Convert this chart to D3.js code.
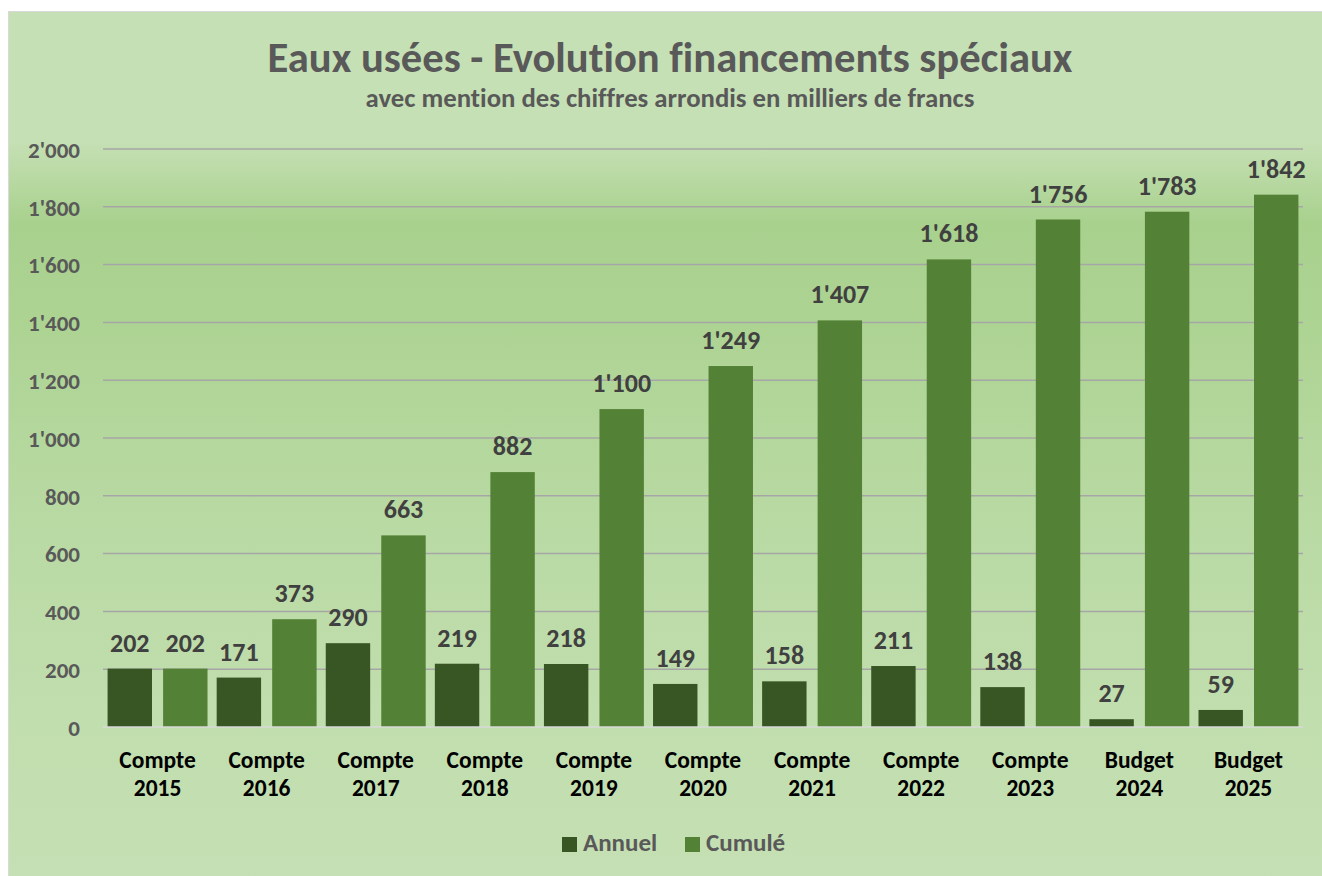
<!DOCTYPE html>
<html>
<head>
<meta charset="utf-8">
<script src="https://cdn.jsdelivr.net/npm/d3@7"></script>
<style>
  html, body { margin: 0; padding: 0; background: #ffffff; }
  svg { display: block; }
  text { font-family: Calibri, Carlito, Lato, "Open Sans", sans-serif; font-weight: 700; font-variant-ligatures: none; }
</style>
</head>
<body>
<svg id="chart" width="1322" height="876"></svg>
<script>
// ---- data ----
const categories = ["Compte 2015", "Compte 2016", "Compte 2017", "Compte 2018", "Compte 2019",
  "Compte 2020", "Compte 2021", "Compte 2022", "Compte 2023", "Budget 2024", "Budget 2025"];
const seriesNames = ["Annuel", "Cumulé"];
const annuel = [202, 171, 290, 219, 218, 149, 158, 211, 138, 27, 59];
const cumule = [202, 373, 663, 882, 1100, 1249, 1407, 1618, 1756, 1783, 1842];
const yTicks = [0, 200, 400, 600, 800, 1000, 1200, 1400, 1600, 1800, 2000];
const titleText = "Eaux usées - Evolution financements spéciaux";
const subtitleText = "avec mention des chiffres arrondis en milliers de francs";

const seriesValues = [annuel, cumule];
const colors = ["#375623", "#538135"];

const fmt = d3.formatLocale({ decimal: ".", thousands: "'", grouping: [3], currency: ["", ""] }).format(",d");

const svg = d3.select("#chart");
const W = 1322, H = 876;

// background gradient
const defs = svg.append("defs");
const grad = defs.append("linearGradient").attr("id", "bg").attr("x1", 0).attr("y1", 0).attr("x2", 0).attr("y2", 1);
[[0, "#c6e0b5"], [0.15, "#c5e0b4"], [0.24, "#a9d18e"], [0.31, "#abd290"], [0.55, "#b7d9a1"], [0.8, "#c1deae"], [1, "#c5e0b4"]]
  .forEach(([o, c]) => grad.append("stop").attr("offset", o).attr("stop-color", c));

svg.append("rect").attr("x", 8.5).attr("y", 11.5).attr("width", W).attr("height", H)
  .attr("fill", "url(#bg)").attr("stroke", "#d9d9d9").attr("stroke-width", 1);

// scales
const plotLeft = 103, plotRight = 1303, plotTop = 149, plotBottom = 727;
const y = d3.scaleLinear().domain([0, 2000]).range([plotBottom, plotTop]);
const x0 = d3.scaleBand().domain(categories).range([plotLeft, plotRight]).paddingInner(0.084).paddingOuter(0.042);
const x1 = d3.scaleBand().domain(seriesNames).range([0, x0.bandwidth()]).paddingInner(0.2).paddingOuter(0);

function fitText(sel, target, base) {
  sel.attr("font-size", base);
  const w = sel.node().getComputedTextLength();
  sel.attr("font-size", base * target / w);
}

// title
const title = svg.append("text").attr("x", 670).attr("y", 72).attr("text-anchor", "middle")
  .attr("fill", "#595959").text(titleText);
fitText(title, 805, 34);
const sub = svg.append("text").attr("x", 670).attr("y", 107).attr("text-anchor", "middle")
  .attr("fill", "#595959").text(subtitleText);
fitText(sub, 609, 18);

// gridlines
const yAxis = d3.axisLeft(y).tickValues(yTicks).tickSize(0).tickFormat(fmt);
svg.append("g").selectAll("line").data(yTicks.filter(d => d > 0)).join("line")
  .attr("x1", plotLeft).attr("x2", plotRight)
  .attr("y1", d => y(d)).attr("y2", d => y(d))
  .attr("stroke", "#a6a6a6").attr("stroke-width", 1.5);

// y axis labels
const ya = svg.append("g").attr("transform", `translate(80,0)`).call(yAxis);
ya.select(".domain").remove();
ya.selectAll("text").attr("x", 0).attr("dy", "0.36em").attr("fill", "#595959")
  .attr("font-size", 23).attr("font-family", null)
  .style("font-family", "Calibri, Carlito, Lato, sans-serif").style("font-weight", 700);

// bars
const groups = svg.append("g").selectAll("g").data(categories).join("g")
  .attr("transform", d => `translate(${x0(d)},0)`);
groups.selectAll("rect").data((d, i) => seriesNames.map((s, k) => ({ s, v: seriesValues[k][i], k })))
  .join("rect")
  .attr("x", d => x1(d.s)).attr("width", x1.bandwidth())
  .attr("y", d => y(d.v)).attr("height", d => y(0) - y(d.v))
  .attr("fill", d => colors[d.k]);
groups.selectAll("text.lbl").data((d, i) => seriesNames.map((s, k) => ({ s, v: seriesValues[k][i], k })))
  .join("text").attr("class", "lbl")
  .attr("x", d => x1(d.s) + x1.bandwidth() / 2).attr("y", d => y(d.v) - 17)
  .attr("text-anchor", "middle").attr("fill", "#404040").attr("font-size", 26)
  .text(d => fmt(d.v));

// baseline
svg.append("line").attr("x1", plotLeft).attr("x2", plotRight).attr("y1", y(0)).attr("y2", y(0))
  .attr("stroke", "#d9d9d9").attr("stroke-width", 1.5);

// x axis labels
const xAxis = d3.axisBottom(x0).tickSize(0).tickFormat("");
const xa = svg.append("g").attr("transform", `translate(0,${plotBottom})`).call(xAxis);
xa.select(".domain").remove();
xa.selectAll(".tick").each(function (d) {
  const parts = d.split(" ");
  const t = d3.select(this).append("text").attr("text-anchor", "middle").attr("fill", "#000000")
    .attr("font-size", 23.5).style("font-family", "Calibri, Carlito, Lato, sans-serif").style("font-weight", 700);
  t.append("tspan").attr("x", 0).attr("y", 41).text(parts[0]);
  t.append("tspan").attr("x", 0).attr("y", 69).text(parts[1]);
});

// legend
const legend = svg.append("g");
const legendX = [562, 685];
seriesNames.forEach((s, k) => {
  legend.append("rect").attr("x", legendX[k]).attr("y", 837).attr("width", 15).attr("height", 15).attr("fill", colors[k]);
  legend.append("text").attr("x", legendX[k] + 21).attr("y", 851).attr("fill", "#595959")
    .attr("font-size", 25).text(s);
});
</script>
</body>
</html>
